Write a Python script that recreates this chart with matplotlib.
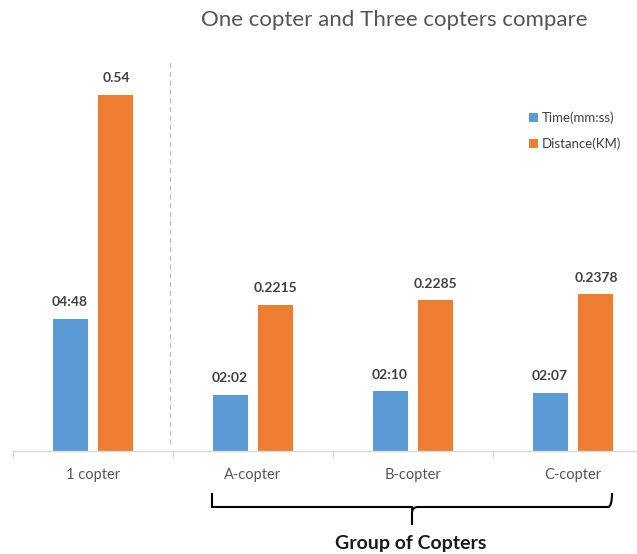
import matplotlib.pyplot as plt
import numpy as np
from matplotlib.path import Path
from matplotlib.patches import PathPatch

plt.rcParams["font.family"] = ["Lato", "DejaVu Sans"]

CATEGORIES = ["1 copter", "A-copter", "B-copter", "C-copter"]
TIME_LABELS = ["04:48", "02:02", "02:10", "02:07"]
DISTANCE_KM = [0.54, 0.2215, 0.2285, 0.2378]

BLUE = "#5B9BD5"
ORANGE = "#ED7D31"
LABEL_COLOR = "#404040"


def time_as_day_fraction(label):
    # the sheet stored the times as hh:mm, so the bar height is a fraction of a day
    hours, minutes = (int(part) for part in label.split(":"))
    return (hours + minutes / 60) / 24


time_values = [time_as_day_fraction(t) for t in TIME_LABELS]

fig = plt.figure(figsize=(6.37, 5.54), dpi=100)
ax = fig.add_axes([13 / 637, 103 / 554, 640 / 637, 411 / 554])

x = np.arange(len(CATEGORIES))
width = 0.22
offset = 0.143
ax.bar(x - offset, time_values, width, color=BLUE, label="Time(mm:ss)")
ax.bar(x + offset, DISTANCE_KM, width, color=ORANGE, label="Distance(KM)")

ax.set_xlim(-0.5, 3.5)
ax.set_ylim(0, 411 / 659.3)

for xi, value, text in zip(x, time_values, TIME_LABELS):
    ax.annotate(text, (xi - offset, value), xytext=(0, 12), textcoords="offset points",
                ha="center", va="center", fontsize=10, fontweight="bold", color=LABEL_COLOR)
for xi, value in zip(x, DISTANCE_KM):
    ax.annotate(f"{value:g}", (xi + offset, value), xytext=(0, 12), textcoords="offset points",
                ha="center", va="center", fontsize=10, fontweight="bold", color=LABEL_COLOR)

# dashed separator between the single copter and the group
ax.plot([0.48, 0.48], [0.0106, 0.5915], color="#BFBFBF", linestyle=(0, (4, 3)), linewidth=0.9)

for side in ["top", "right", "left"]:
    ax.spines[side].set_visible(False)
ax.spines["bottom"].set_color("#D9D9D9")
ax.spines["bottom"].set_linewidth(1.0)
ax.set_yticks([])
ax.set_xticks(x)
ax.set_xticklabels(CATEGORIES, fontsize=10.5, color="#555555")
ax.tick_params(axis="x", which="major", length=0, pad=12)
ax.set_xticks([-0.5, 0.5, 1.5, 2.5, 3.5], minor=True)
ax.tick_params(axis="x", which="minor", length=5, color="#D9D9D9", width=1.0)

ax.legend(loc="upper left", bbox_to_anchor=(517 / 637, 1 - 100 / 554), bbox_transform=fig.transFigure,
          frameon=False, fontsize=9.5, handlelength=0.7, handleheight=0.7, handletextpad=0.3,
          labelspacing=1.0, labelcolor=LABEL_COLOR)

fig.text(394 / 637, 1 - 20 / 554, "One copter and Three copters compare", ha="center", va="center",
         fontsize=16, color="#555555")

# curly bracket under the group of copters
bracket = Path(
    [(212, 493), (212, 507), (216, 507), (406, 507), (412, 507), (412, 513), (412, 525),
     (412, 513), (412, 507), (418, 507), (608, 507), (612, 507), (612, 493)],
    [Path.MOVETO, Path.LINETO, Path.CURVE3, Path.CURVE3, Path.LINETO, Path.CURVE3, Path.CURVE3,
     Path.MOVETO, Path.CURVE3, Path.CURVE3, Path.LINETO, Path.CURVE3, Path.CURVE3],
)
verts = [(px / 637, 1 - py / 554) for px, py in bracket.vertices]
fig.add_artist(PathPatch(Path(verts, bracket.codes), transform=fig.transFigure,
                         fill=False, edgecolor="black", linewidth=1.5))
fig.text(411 / 637, 1 - 543 / 554, "Group of Copters", ha="center", va="center",
         fontsize=14, fontweight="bold", color="#1A1A1A")

fig.savefig("out.png", dpi=100)
